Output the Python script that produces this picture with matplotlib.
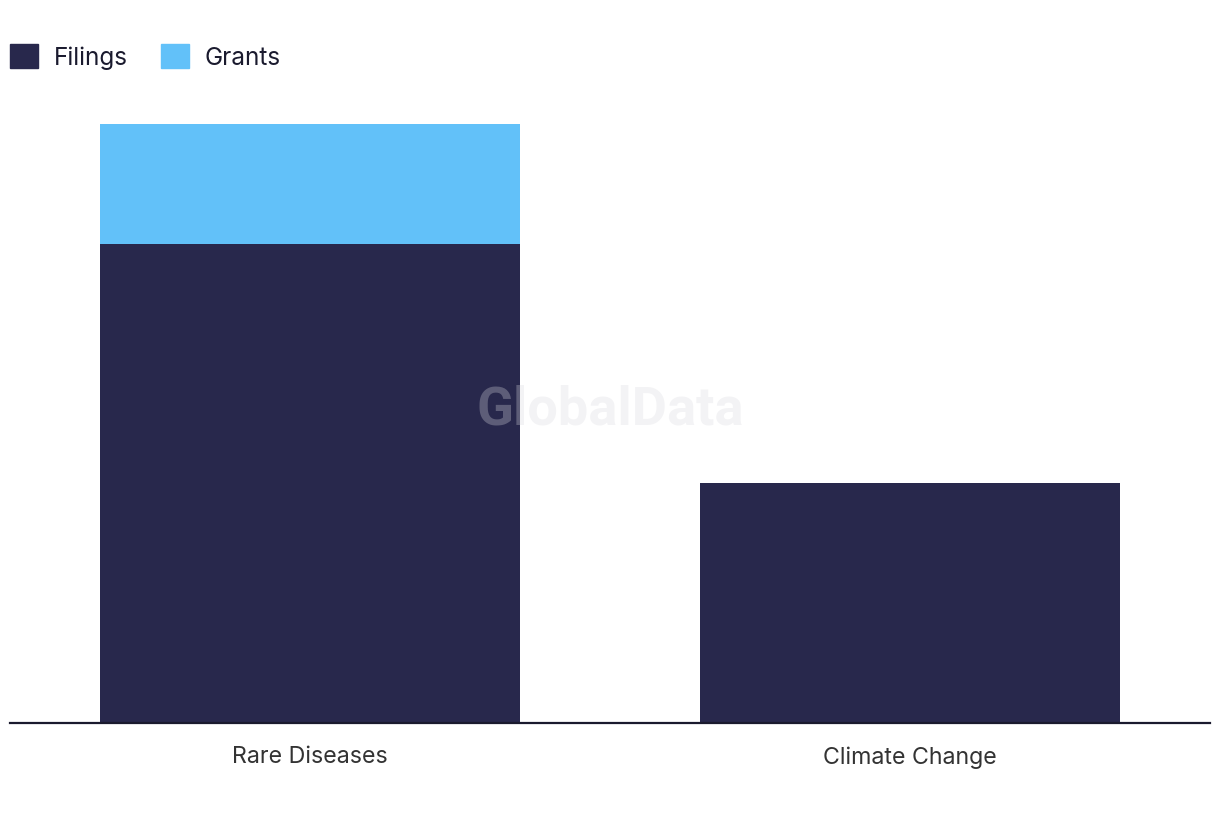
import matplotlib.pyplot as plt
from matplotlib.patches import Patch

# Chart data
categories = ['Rare Diseases', 'Climate Change']
filings = [4, 2]
grants = [1, 0]

navy = '#28284c'
blue = '#62c1f9'

plt.rcParams['font.family'] = ['Inter', 'DejaVu Sans']

fig = plt.figure(figsize=(12.2, 8.2), dpi=100)
ax = fig.add_axes([10 / 1220, 96 / 820, 1200 / 1220, 626 / 820])

x = range(len(categories))
ax.bar(x, filings, width=0.7, color=navy, label='Filings')
ax.bar(x, grants, width=0.7, bottom=filings, color=blue, label='Grants')

ax.set_xlim(-0.5, 1.5)
ax.set_ylim(0, 5.225)
ax.set_xticks(list(x))
ax.set_xticklabels(categories, fontsize=16.7, color='#333333')
ax.tick_params(axis='x', length=0, pad=16)
ax.set_yticks([])
for side in ['left', 'right', 'top']:
    ax.spines[side].set_visible(False)
ax.spines['bottom'].set_color('#1a1a2e')
ax.spines['bottom'].set_linewidth(1.6)

# watermark
fig.text(0.5, 0.5, 'GlobalData', ha='center', va='center', fontsize=39,
         fontweight='bold', color='#d8d8de', alpha=0.3, family=['Roboto', 'DejaVu Sans'])

handles = [Patch(color=navy, label='Filings'), Patch(color=blue, label='Grants')]
fig.legend(handles=handles, loc='upper left', bbox_to_anchor=(10 / 1220, 1 - 45 / 820), ncol=2,
           frameon=False, fontsize=17.5, handlelength=1.15, handleheight=1.15,
           handletextpad=0.65, columnspacing=1.35, labelcolor='#1a1a2e',
           borderpad=0, borderaxespad=0)

fig.savefig('out.png', dpi=100)
